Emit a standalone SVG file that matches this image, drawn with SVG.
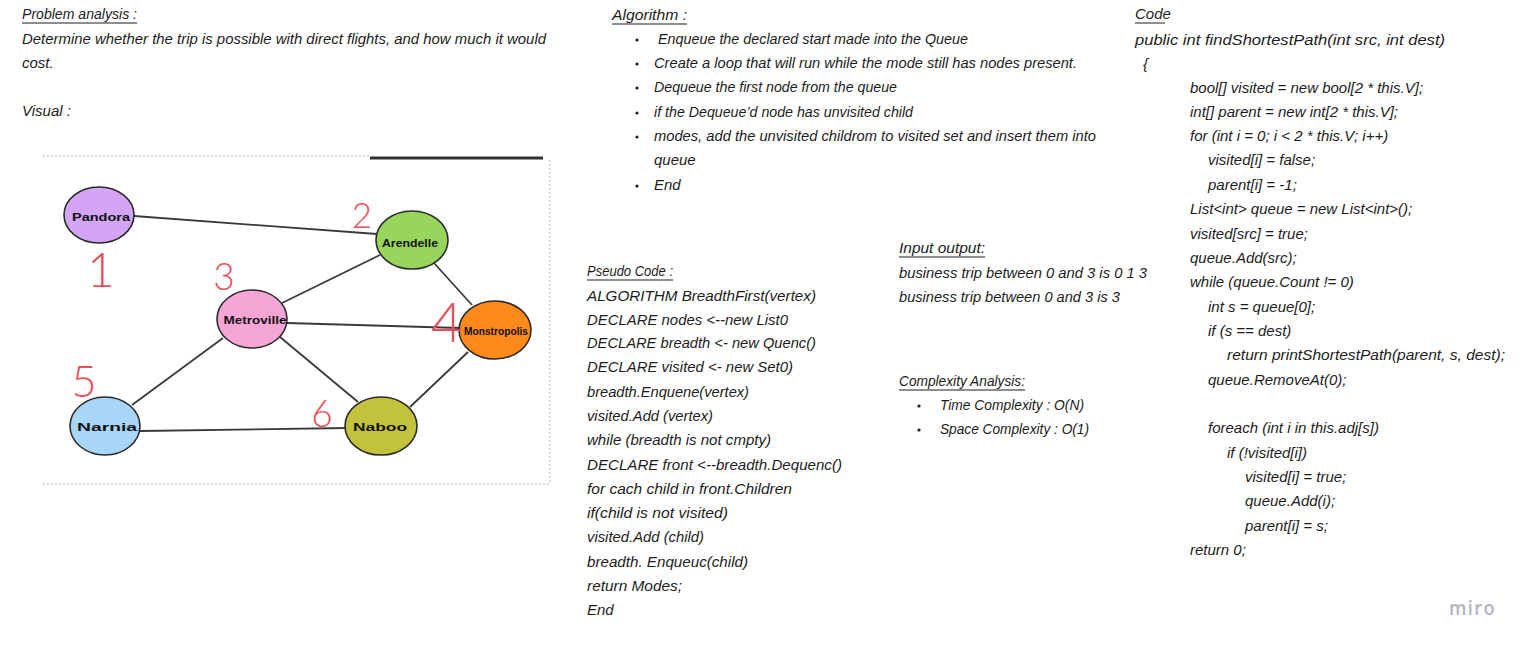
<svg xmlns="http://www.w3.org/2000/svg" width="1532" height="652" viewBox="0 0 1532 652">
<style>
.t{font-family:"Liberation Sans",Arial,sans-serif;font-style:italic;font-size:15px;fill:#1c1c1c}
.ul{stroke:#1c1c1c;stroke-width:1}
.dot{fill:#1c1c1c}
.node{stroke:#2a2a2a;stroke-width:1.6}
.lbl{font-family:"Liberation Sans",Arial,sans-serif;font-size:11.5px;font-weight:bold;fill:#111;text-anchor:middle}
.edge{stroke:#3a3a3a;stroke-width:1.8;fill:none}
.num{font-family:Lato,"Liberation Sans",sans-serif;font-weight:300;fill:#e8505b;text-anchor:middle}
.frame{stroke:#d8d8d8;stroke-width:2;stroke-dasharray:2 2;fill:none}
</style>
<rect width="1532" height="652" fill="#ffffff"/>

<g id="problem-analysis">
<text class="t" x="22" y="19" textLength="115" lengthAdjust="spacingAndGlyphs">Problem analysis :</text>
<line class="ul" x1="22" y1="23" x2="137" y2="23"/>
<text class="t" x="22" y="44" textLength="524" lengthAdjust="spacingAndGlyphs">Determine whether the trip is possible with direct flights, and how much it would</text>
<text class="t" x="22" y="68">cost.</text>
<text class="t" x="22" y="116">Visual :</text>
</g>

<g id="graph-frame">
<path class="frame" d="M43 156 H370 M550 160 V484 M43 484 H550"/>
<line x1="370" y1="158" x2="543" y2="158" stroke="#333" stroke-width="3"/>
</g>

<g id="connectors">
<line class="edge" x1="134" y1="216" x2="377" y2="234"/>
<line class="edge" x1="380" y1="255" x2="282" y2="303"/>
<line class="edge" x1="434" y1="263" x2="472" y2="305"/>
<line class="edge" x1="287" y1="323" x2="460" y2="328"/>
<line class="edge" x1="223" y1="338" x2="132" y2="405"/>
<line class="edge" x1="280" y1="337" x2="358" y2="402"/>
<line class="edge" x1="468" y1="352" x2="410" y2="407"/>
<line class="edge" x1="140" y1="431" x2="346" y2="428"/>
</g>

<g id="node-pandora">
<ellipse class="node" cx="99" cy="215" rx="35" ry="28" fill="#d4a5f5"/>
<text class="lbl" x="101" y="221" textLength="58" lengthAdjust="spacingAndGlyphs">Pandora</text>
</g>
<g id="node-arendelle">
<ellipse class="node" cx="412" cy="240" rx="36" ry="29" fill="#98d55c"/>
<text class="lbl" x="410" y="247" textLength="56" lengthAdjust="spacingAndGlyphs">Arendelle</text>
</g>
<g id="node-metroville">
<ellipse class="node" cx="252" cy="319" rx="35" ry="29" fill="#f5a6d6"/>
<text class="lbl" x="255" y="324" textLength="63" lengthAdjust="spacingAndGlyphs">Metroville</text>
</g>
<g id="node-monstropolis">
<ellipse class="node" cx="495" cy="330" rx="36" ry="29" fill="#ff8a1c"/>
<text class="lbl" x="496" y="335" textLength="64" lengthAdjust="spacingAndGlyphs">Monstropolis</text>
</g>
<g id="node-narnia">
<ellipse class="node" cx="105" cy="426" rx="35" ry="29" fill="#a8d6f8"/>
<text class="lbl" x="107" y="431" textLength="60" lengthAdjust="spacingAndGlyphs">Narnia</text>
</g>
<g id="node-naboo">
<ellipse class="node" cx="381" cy="426" rx="36" ry="29" fill="#c3c23c"/>
<text class="lbl" x="380" y="431" textLength="54" lengthAdjust="spacingAndGlyphs">Naboo</text>
</g>

<g id="order-numbers">
<text class="num" x="101" y="287" font-size="48">1</text>
<text class="num" x="362" y="228" font-size="35">2</text>
<text class="num" x="224" y="290" font-size="37">3</text>
<text class="num" x="447" y="342" font-size="56">4</text>
<text class="num" x="84" y="397" font-size="44">5</text>
<text class="num" x="322" y="427" font-size="37">6</text>
</g>

<g id="algorithm">
<text class="t" x="612" y="20" textLength="75" lengthAdjust="spacingAndGlyphs">Algorithm :</text>
<line class="ul" x1="612" y1="24" x2="687" y2="24"/>
<circle class="dot" cx="637" cy="40" r="1.6"/>
<text class="t" x="658" y="44" textLength="310" lengthAdjust="spacingAndGlyphs">Enqueue the declared start made into the Queue</text>
<circle class="dot" cx="637" cy="64" r="1.6"/>
<text class="t" x="654" y="68" textLength="423" lengthAdjust="spacingAndGlyphs">Create a loop that will run while the mode still has nodes present.</text>
<circle class="dot" cx="637" cy="88" r="1.6"/>
<text class="t" x="654" y="92" textLength="243" lengthAdjust="spacingAndGlyphs">Dequeue the first node from the queue</text>
<circle class="dot" cx="637" cy="113" r="1.6"/>
<text class="t" x="654" y="117" textLength="259" lengthAdjust="spacingAndGlyphs">if the Dequeue’d node has unvisited child</text>
<circle class="dot" cx="637" cy="137" r="1.6"/>
<text class="t" x="654" y="141" textLength="442" lengthAdjust="spacingAndGlyphs">modes, add the unvisited childrom to visited set and insert them into</text>
<text class="t" x="654" y="165">queue</text>
<circle class="dot" cx="637" cy="186" r="1.6"/>
<text class="t" x="654" y="190">End</text>
</g>

<g id="pseudo-code">
<text class="t" x="587" y="276" textLength="86" lengthAdjust="spacingAndGlyphs">Pseudo Code :</text>
<line class="ul" x1="587" y1="280" x2="673" y2="280"/>
<text class="t" x="587" y="301" textLength="229" lengthAdjust="spacingAndGlyphs">ALGORITHM BreadthFirst(vertex)</text>
<text class="t" x="587" y="325" textLength="201" lengthAdjust="spacingAndGlyphs">DECLARE nodes &lt;--new List0</text>
<text class="t" x="587" y="348" textLength="229" lengthAdjust="spacingAndGlyphs">DECLARE breadth &lt;- new Quenc()</text>
<text class="t" x="587" y="372" textLength="206" lengthAdjust="spacingAndGlyphs">DECLARE visited &lt;- new Set0)</text>
<text class="t" x="587" y="397" textLength="162" lengthAdjust="spacingAndGlyphs">breadth.Enquene(vertex)</text>
<text class="t" x="587" y="421" textLength="126" lengthAdjust="spacingAndGlyphs">visited.Add (vertex)</text>
<text class="t" x="587" y="445" textLength="184" lengthAdjust="spacingAndGlyphs">while (breadth is not cmpty)</text>
<text class="t" x="587" y="470" textLength="255" lengthAdjust="spacingAndGlyphs">DECLARE front &lt;--breadth.Dequenc()</text>
<text class="t" x="587" y="494" textLength="205" lengthAdjust="spacingAndGlyphs">for cach child in front.Children</text>
<text class="t" x="587" y="518" textLength="141" lengthAdjust="spacingAndGlyphs">if(child is not visited)</text>
<text class="t" x="587" y="542" textLength="117" lengthAdjust="spacingAndGlyphs">visited.Add (child)</text>
<text class="t" x="587" y="567" textLength="161" lengthAdjust="spacingAndGlyphs">breadth. Enqueuc(child)</text>
<text class="t" x="587" y="591" textLength="95" lengthAdjust="spacingAndGlyphs">return Modes;</text>
<text class="t" x="587" y="615">End</text>
</g>

<g id="input-output">
<text class="t" x="899" y="253" textLength="86" lengthAdjust="spacingAndGlyphs">Input output:</text>
<line class="ul" x1="899" y1="257" x2="985" y2="257"/>
<text class="t" x="899" y="278" textLength="248" lengthAdjust="spacingAndGlyphs">business trip between 0 and 3 is 0 1 3</text>
<text class="t" x="899" y="302" textLength="221" lengthAdjust="spacingAndGlyphs">business trip between 0 and 3 is 3</text>
</g>

<g id="complexity-analysis">
<text class="t" x="899" y="386" textLength="126" lengthAdjust="spacingAndGlyphs">Complexity Analysis:</text>
<line class="ul" x1="899" y1="390" x2="1025" y2="390"/>
<circle class="dot" cx="919" cy="406" r="1.6"/>
<text class="t" x="940" y="410" textLength="144" lengthAdjust="spacingAndGlyphs">Time Complexity : O(N)</text>
<circle class="dot" cx="919" cy="430" r="1.6"/>
<text class="t" x="940" y="434" textLength="149" lengthAdjust="spacingAndGlyphs">Space Complexity : O(1)</text>
</g>

<g id="code">
<text class="t" x="1135" y="19">Code</text>
<line class="ul" x1="1135" y1="23" x2="1165" y2="23"/>
<text class="t" x="1135" y="45" textLength="310" lengthAdjust="spacingAndGlyphs">public int findShortestPath(int src, int dest)</text>
<text class="t" x="1143" y="69">{</text>
<text class="t" x="1190" y="93">bool[] visited = new bool[2 * this.V];</text>
<text class="t" x="1190" y="117">int[] parent = new int[2 * this.V];</text>
<text class="t" x="1190" y="141">for (int i = 0; i &lt; 2 * this.V; i++)</text>
<text class="t" x="1208" y="165">visited[i] = false;</text>
<text class="t" x="1208" y="190">parent[i] = -1;</text>
<text class="t" x="1190" y="214">List&lt;int&gt; queue = new List&lt;int&gt;();</text>
<text class="t" x="1190" y="239">visited[src] = true;</text>
<text class="t" x="1190" y="263">queue.Add(src);</text>
<text class="t" x="1190" y="287">while (queue.Count != 0)</text>
<text class="t" x="1208" y="312">int s = queue[0];</text>
<text class="t" x="1208" y="336">if (s == dest)</text>
<text class="t" x="1227" y="360" textLength="278" lengthAdjust="spacingAndGlyphs">return printShortestPath(parent, s, dest);</text>
<text class="t" x="1208" y="385">queue.RemoveAt(0);</text>
<text class="t" x="1208" y="433">foreach (int i in this.adj[s])</text>
<text class="t" x="1227" y="458">if (!visited[i])</text>
<text class="t" x="1245" y="482">visited[i] = true;</text>
<text class="t" x="1245" y="506">queue.Add(i);</text>
<text class="t" x="1245" y="531">parent[i] = s;</text>
<text class="t" x="1190" y="555">return 0;</text>
</g>

<g id="miro-logo">
<text x="1449" y="615" font-family="'Open Sans','Liberation Sans',sans-serif" font-size="20" font-weight="600" letter-spacing="1.5" fill="#b4b4c0" textLength="47" lengthAdjust="spacingAndGlyphs">miro</text>
</g>
</svg>
